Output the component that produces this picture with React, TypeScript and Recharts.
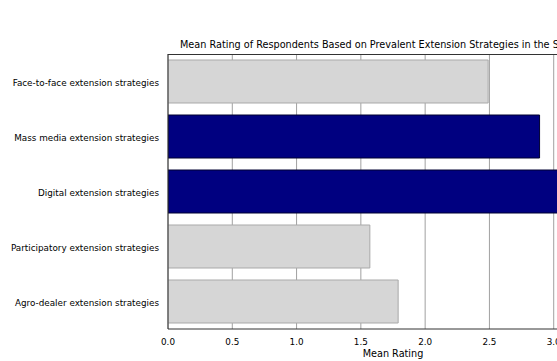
import { Bar, BarChart, CartesianGrid, Cell, XAxis, YAxis } from 'recharts';

const strategies = [
  'Face-to-face extension strategies',
  'Mass media extension strategies',
  'Digital extension strategies',
  'Participatory extension strategies',
  'Agro-dealer extension strategies',
];
const meanRatings = [2.49, 2.89, 3.1, 1.57, 1.79];
const highlighted = [false, true, true, false, false];
const xTicks = [0, 0.5, 1, 1.5, 2, 2.5, 3, 3.5];

const data = strategies.map((name, i) => ({ name, rating: meanRatings[i], top: highlighted[i] }));

const font = 'DejaVu Sans, sans-serif';

// single-line category label (recharts wraps long ticks otherwise)
function StrategyTick({ x, y, payload }: any) {
  return (
    <text x={x - 1} y={y} dy={4} textAnchor="end" fontSize={8.8} fill="#000" fontFamily={font}>
      {payload.value}
    </text>
  );
}

export default function App() {
  return (
    <div
      style={{
        position: 'absolute',
        left: 0,
        top: 0,
        width: 557,
        height: 361,
        overflow: 'hidden',
        background: '#fff',
        fontFamily: font,
      }}
    >
      <div
        style={{
          position: 'absolute',
          left: 0,
          width: 786,
          top: 39,
          textAlign: 'center',
          fontSize: 9.7,
          color: '#000',
          whiteSpace: 'nowrap',
        }}
      >
        Mean Rating of Respondents Based on Prevalent Extension Strategies in the Study Area
      </div>
      <BarChart
        width={640}
        height={361}
        data={data}
        layout="vertical"
        margin={{ top: 54, right: 22, bottom: 0, left: 0 }}
        barCategoryGap={6}
      >
        <CartesianGrid horizontal={false} vertical stroke="#a0a0a0" strokeWidth={1} />
        <XAxis
          type="number"
          domain={[0, 3.5]}
          ticks={xTicks}
          tickFormatter={(v) => v.toFixed(1)}
          tick={{ fontSize: 8.8, fill: '#000', fontFamily: font, dy: 2 }}
          tickLine={false}
          axisLine={{ stroke: '#333' }}
          allowDataOverflow
          label={{ value: 'Mean Rating', position: 'insideBottom', offset: 4, fontSize: 9.7, fill: '#000', fontFamily: font }}
          height={32}
        />
        <YAxis
          type="category"
          dataKey="name"
          width={168}
          tick={<StrategyTick />}
          tickLine={false}
          axisLine={{ stroke: '#333' }}
        />
        <Bar dataKey="rating" barSize={43} isAnimationActive={false}>
          {data.map((d) => (
            <Cell
              key={d.name}
              fill={d.top ? '#000080' : '#d6d6d6'}
              stroke={d.top ? '#000030' : '#a9a9a9'}
              strokeWidth={1}
            />
          ))}
        </Bar>
      </BarChart>
      <div style={{ position: 'absolute', left: 168, top: 54, width: 450, height: 1, background: '#333' }} />
    </div>
  );
}
